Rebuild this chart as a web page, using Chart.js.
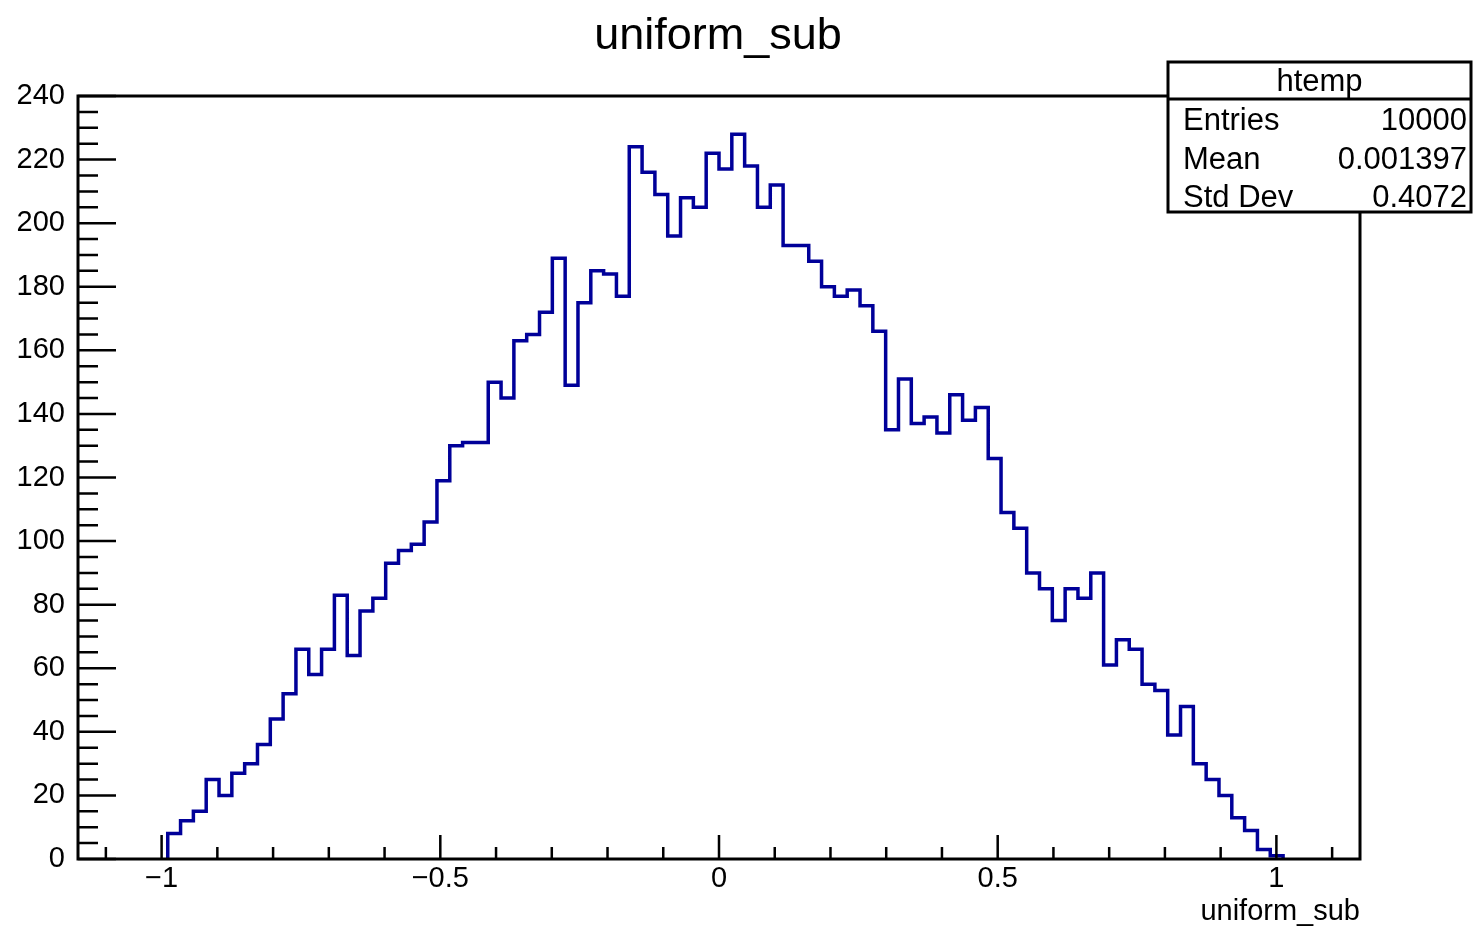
<!DOCTYPE html>
<html>
<head>
<meta charset="utf-8">
<script src="https://cdn.jsdelivr.net/npm/chart.js@4.4.0/dist/chart.umd.min.js"></script>
<style>
  html, body { margin: 0; padding: 0; background: #fff; }
  #wrap { width: 1473px; height: 926px; }
</style>
</head>
<body>
<div id="wrap"><canvas id="hist" width="1473" height="926"></canvas></div>
<script>
// ===== DATA =====
const histName = 'htemp';
const varName = 'uniform_sub';
const xMin = -1.15, xMax = 1.15, nBins = 100;
const firstBin = 7; // bins 0..6 and 94..99 are empty
const counts = [8, 12, 15, 25, 20, 27, 30, 36, 44, 52,
  66, 58, 66, 83, 64, 78, 82, 93, 97, 99,
  106, 119, 130, 131, 131, 150, 145, 163, 165, 172,
  189, 149, 175, 185, 184, 177, 224, 216, 209, 196,
  208, 205, 222, 217, 228, 218, 205, 212, 193, 193,
  188, 180, 177, 179, 174, 166, 135, 151, 137, 139,
  134, 146, 138, 142, 126, 109, 104, 90, 85, 75,
  85, 82, 90, 61, 69, 66, 55, 53, 39, 48,
  30, 25, 20, 13, 9, 3, 1];
const xTickValues = [-1, -0.5, 0, 0.5, 1];
const yTickValues = [0, 20, 40, 60, 80, 100, 120, 140, 160, 180, 200, 220, 240];
const statsLabels = ['Entries', 'Mean', 'Std Dev'];
const statsValues = ['10000', '0.001397', '0.4072'];

const FONT = "'Liberation Sans', Arial, Helvetica, sans-serif";

// bin edges -> step outline points
const binWidth = (xMax - xMin) / nBins;
const points = [{ x: xMin + firstBin * binWidth, y: 0 }];
counts.forEach((c, i) => points.push({ x: xMin + (firstBin + i) * binWidth, y: c }));
points.push({ x: xMin + (firstBin + counts.length) * binWidth, y: 0 });

const fmt = v => (v < 0 ? '\u2212' + (-v) : String(v));

// ===== FRAME + INWARD TICKS (ROOT style) =====
const rootFrame = {
  id: 'rootFrame',
  afterDatasetsDraw(chart) {
    const { ctx, chartArea: a, scales: { x, y } } = chart;
    ctx.save();
    ctx.strokeStyle = '#000';
    ctx.lineWidth = 2.5;
    ctx.beginPath();
    for (let i = -11; i <= 11; i++) {
      const px = x.getPixelForValue(i / 10);
      const len = i % 5 === 0 ? 24 : 12;
      ctx.moveTo(px, a.bottom);
      ctx.lineTo(px, a.bottom - len);
    }
    for (let i = 0; i <= 48; i++) {
      const py = y.getPixelForValue(i * 5);
      const len = i % 4 === 0 ? 38 : 20;
      ctx.moveTo(a.left, py);
      ctx.lineTo(a.left + len, py);
    }
    ctx.stroke();
    ctx.lineWidth = 3;
    ctx.strokeRect(a.left, a.top, a.right - a.left, a.bottom - a.top);
    ctx.restore();
  }
};

// ===== TITLE + STATS BOX =====
const statsBox = {
  id: 'statsBox',
  afterDraw(chart) {
    const ctx = chart.ctx;
    ctx.save();
    ctx.fillStyle = '#000';
    ctx.font = '45px ' + FONT;
    ctx.textAlign = 'center';
    ctx.textBaseline = 'alphabetic';
    ctx.fillText(varName, 718, 49);

    const L = 1168, T = 62, R = 1471, B = 212, sep = 99;
    ctx.fillStyle = '#fff';
    ctx.fillRect(L, T, R - L, B - T);
    ctx.strokeStyle = '#000';
    ctx.lineWidth = 3;
    ctx.strokeRect(L, T, R - L, B - T);
    ctx.beginPath();
    ctx.moveTo(L, sep);
    ctx.lineTo(R, sep);
    ctx.stroke();
    ctx.fillStyle = '#000';
    ctx.font = '31px ' + FONT;
    ctx.textAlign = 'center';
    ctx.fillText(histName, (L + R) / 2, 91);
    const rows = [130, 169, 207];
    statsLabels.forEach((lab, i) => {
      ctx.textAlign = 'left';
      ctx.fillText(lab, 1183, rows[i]);
      ctx.textAlign = 'right';
      ctx.fillText(statsValues[i], 1467, rows[i]);
    });
    ctx.restore();
  }
};

// ===== CHART =====
new Chart(document.getElementById('hist'), {
  type: 'line',
  data: {
    datasets: [{
      data: points,
      borderColor: '#000099',
      borderWidth: 3.5,
      stepped: true,
      pointRadius: 0,
      fill: false,
      tension: 0
    }]
  },
  options: {
    responsive: false,
    animation: false,
    layout: { padding: { left: 0, right: 113, top: 96, bottom: 0 } },
    plugins: {
      legend: { display: false },
      tooltip: { enabled: false },
      title: { display: false }
    },
    scales: {
      x: {
        type: 'linear',
        min: xMin,
        max: xMax,
        grid: { display: false, drawTicks: false },
        border: { display: false },
        afterBuildTicks: s => { s.ticks = xTickValues.map(v => ({ value: v })); },
        afterFit: s => { s.height = 67; },
        ticks: {
          color: '#000',
          font: { family: FONT, size: 29 },
          padding: 3,
          maxRotation: 0,
          autoSkip: false,
          callback: v => fmt(v)
        },
        title: {
          display: true,
          text: varName,
          align: 'end',
          color: '#000',
          font: { family: FONT, size: 29, lineHeight: 1 },
          padding: 0
        }
      },
      y: {
        min: 0,
        max: 240,
        grid: { display: false, drawTicks: false },
        border: { display: false },
        afterBuildTicks: s => { s.ticks = yTickValues.map(v => ({ value: v })); },
        afterFit: s => { s.width = 78; },
        ticks: {
          color: '#000',
          font: { family: FONT, size: 29 },
          padding: 13,
          autoSkip: false
        }
      }
    }
  },
  plugins: [rootFrame, statsBox]
});
</script>
</body>
</html>
